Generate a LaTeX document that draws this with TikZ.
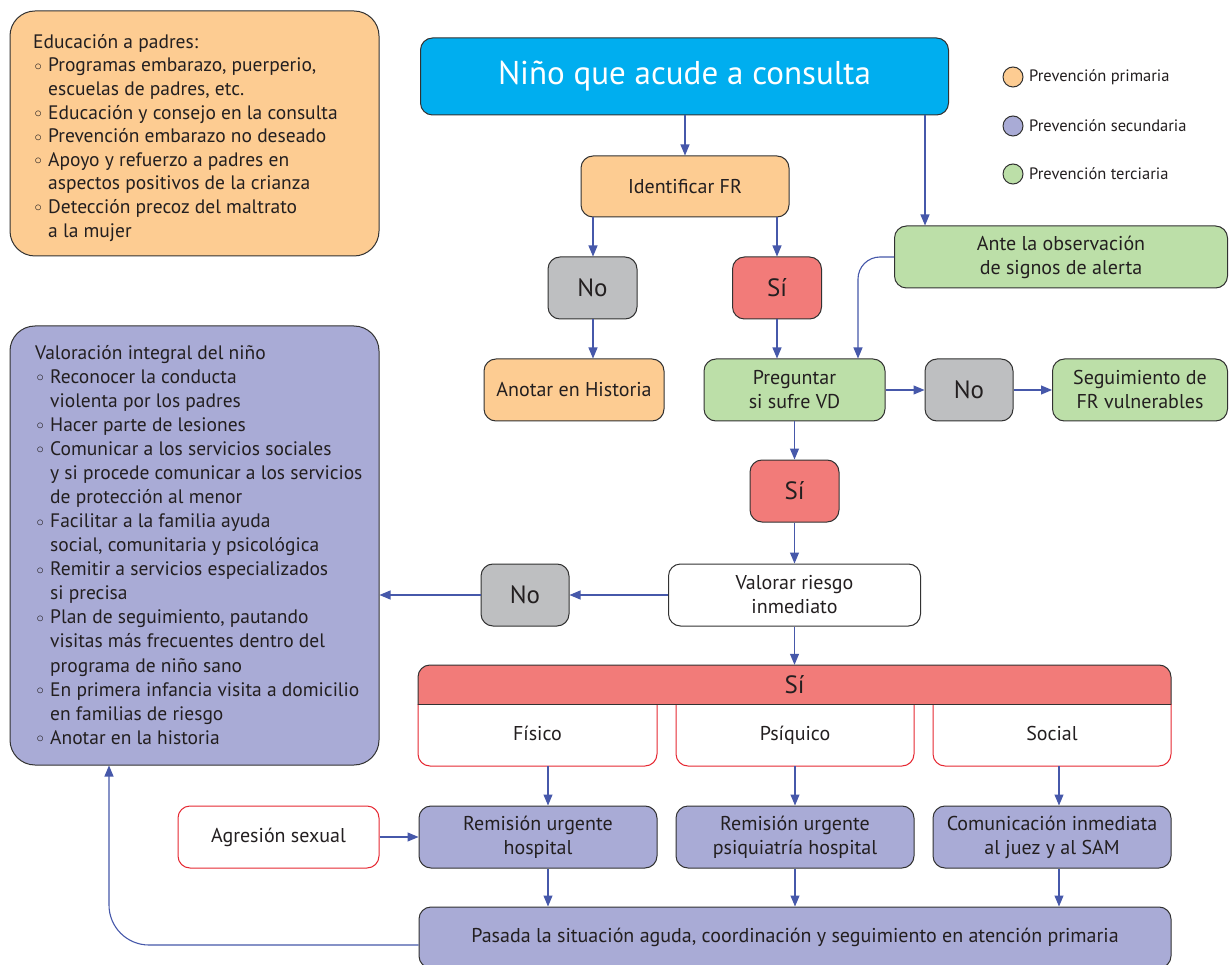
\documentclass[tikz,border=0pt]{standalone}
\usepackage{fontspec}
\usepackage{graphicx}
\setmainfont{PT Sans}
\usetikzlibrary{arrows.meta}
\definecolor{cOr}{RGB}{253,204,146}
\definecolor{cPu}{RGB}{169,171,214}
\definecolor{cGr}{RGB}{188,223,168}
\definecolor{cGy}{RGB}{190,191,193}
\definecolor{cRd}{RGB}{242,123,121}
\definecolor{cBl}{RGB}{0,174,239}
\definecolor{cAr}{RGB}{70,88,170}
\definecolor{cBd}{RGB}{50,50,50}
\definecolor{cTx}{RGB}{35,31,32}
\definecolor{cRl}{RGB}{230,40,50}
\newcommand\itm{\makebox[15pt][l]{\hspace{1.5pt}\raisebox{1.5pt}{\scalebox{0.7}{$\circ$}}}}
\newcommand\cnt{\hspace*{15pt}}
\begin{document}
\begin{tikzpicture}[x=1pt,y=-1pt,
  box/.style={draw=cBd, line width=1pt, rounded corners=12pt, align=center, inner sep=2pt,
    text=cTx, font=\fontsize{20}{24}\selectfont},
  big/.style={box, font=\fontsize{25}{28}\selectfont},
  plain/.style={inner sep=0pt, align=center, text=cTx, font=\fontsize{20}{24}\selectfont},
  arr/.style={draw=cAr, line width=1.1pt, -{Triangle[length=11pt,width=9pt]}},
  legc/.style={circle, draw=cBd, line width=1pt, minimum size=20pt, inner sep=0pt},
  legt/.style={anchor=west, inner sep=0pt, text=cTx, font=\fontsize{16.5}{18}\selectfont},
  list/.style={anchor=north west, inner sep=0pt, align=left, text=cTx, font=\fontsize{19.5}{23.6}\selectfont}
]
\useasboundingbox (0,0) rectangle (1229,965);
\fill[white] (0,0) rectangle (1229,965);

% left boxes
\node[draw=cBd, line width=1pt, fill=cOr, rounded corners=25pt, minimum width=369pt, minimum height=245pt, inner sep=0pt] (obox) at (194.5,133.5) {};
\node[list] (otext) at (33,34) {Educación a padres:\\
\itm Programas embarazo, puerperio,\\
\cnt escuelas de padres, etc.\\
\itm Educación y consejo en la consulta\\
\itm Prevención embarazo no deseado\\
\itm Apoyo y refuerzo a padres en\\
\cnt aspectos positivos de la crianza\\
\itm Detección precoz del maltrato\\
\cnt a la mujer};

\node[draw=cBd, line width=1pt, fill=cPu, rounded corners=25pt, minimum width=369pt, minimum height=439pt, inner sep=0pt] (lbox) at (194.5,545.5) {};
\node[list, font=\fontsize{19.5}{24.06}\selectfont] (ltext) at (35,345) {Valoración integral del niño\\
\itm Reconocer la conducta\\
\cnt violenta por los padres\\
\itm Hacer parte de lesiones\\
\itm Comunicar a los servicios sociales\\
\cnt y si procede comunicar a los servicios\\
\cnt de protección al menor\\
\itm Facilitar a la familia ayuda\\
\cnt social, comunitaria y psicológica\\
\itm Remitir a servicios especializados\\
\cnt si precisa\\
\itm Plan de seguimiento, pautando\\
\cnt visitas más frecuentes dentro del\\
\cnt programa de niño sano\\
\itm En primera infancia visita a domicilio\\
\cnt en familias de riesgo\\
\itm Anotar en la historia};

% legend
\node[legc, fill=cOr] (l1) at (1013,77) {};
\node[legt] (l1t) at (1029,77) {Prevención primaria};
\node[legc, fill=cPu] (l2) at (1013,126) {};
\node[legt] (l2t) at (1029,126) {Prevención secundaria};
\node[legc, fill=cGr] (l3) at (1013,174) {};
\node[legt] (l3t) at (1029,174) {Prevención terciaria};

% flow nodes
\node[box, fill=cBl, text=white, minimum width=528pt, minimum height=77pt, font=\fontsize{33}{36}\selectfont] (nino) at (684.5,76.5) {Niño que acude a consulta};
\node[box, fill=cOr, minimum width=208pt, minimum height=61pt] (ident) at (685,186.5) {Identificar FR};
\node[big, fill=cGy, minimum width=89pt, minimum height=62pt] (no1) at (592.5,288) {No};
\node[big, fill=cRd, minimum width=89pt, minimum height=62pt] (si1) at (777,288) {Sí};
\node[box, fill=cOr, minimum width=180pt, minimum height=62pt] (anot) at (574,390) {Anotar en Historia};
\node[box, fill=cGr, minimum width=333pt, minimum height=62pt] (ante) at (1061,257) {Ante la observación\\de signos de alerta};
\node[box, fill=cGr, minimum width=181pt, minimum height=62pt] (preg) at (794.5,390) {Preguntar\\si sufre VD};
\node[big, fill=cGy, minimum width=88pt, minimum height=62pt] (no2) at (969,390) {No};
\node[box, fill=cGr, minimum width=175pt, minimum height=62pt] (seg) at (1140,390) {Seguimiento de\\FR vulnerables};
\node[big, fill=cRd, minimum width=89pt, minimum height=62pt] (si2) at (794.5,491) {Sí};
\node[box, fill=white, minimum width=252pt, minimum height=62pt] (val) at (794.5,595) {Valorar riesgo\\inmediato};
\node[big, fill=cGy, minimum width=88pt, minimum height=62pt] (no3) at (525,595) {No};

% Si group
\begin{scope}
  \clip (405,640) rectangle (1185,704);
  \draw[draw=cBd, line width=1pt, fill=cRd, rounded corners=12pt] (418,665) rectangle (1171,740);
\end{scope}
\node[plain, minimum width=753pt, minimum height=39pt, font=\fontsize{25}{28}\selectfont] (head) at (794.5,684.5) {Sí};
\foreach \a/\b in {418/657, 676/914, 933/1171}{
  \begin{scope}
    \clip (\a-5,704) rectangle (\b+5,775);
    \draw[draw=cRl, line width=1pt, fill=white, rounded corners=12pt] (\a,680) rectangle (\b,766);
  \end{scope}
}
\draw[draw=cBd, line width=1pt] (418,704) -- (1171,704);
\node[plain, minimum width=239pt, minimum height=62pt, text height=14pt, text depth=4pt] (fis) at (537.5,735) {Físico};
\node[plain, minimum width=238pt, minimum height=62pt, text height=14pt, text depth=4pt] (psi) at (795,735) {Psíquico};
\node[plain, minimum width=238pt, minimum height=62pt, text height=14pt, text depth=4pt] (soc) at (1052,735) {Social};

% row 4
\node[box, draw=cRl, fill=white, minimum width=201pt, minimum height=62pt] (agr) at (278.5,837) {Agresión sexual};
\node[box, fill=cPu, minimum width=238pt, minimum height=62pt] (rem1) at (538,837) {Remisión urgente\\hospital};
\node[box, fill=cPu, minimum width=238pt, minimum height=62pt] (rem2) at (795,837) {Remisión urgente\\psiquiatría hospital};
\node[box, fill=cPu, minimum width=238pt, minimum height=62pt] (com) at (1052,837) {Comunicación inmediata\\al juez y al SAM};
\node[box, fill=cPu, minimum width=752pt, minimum height=61pt] (pas) at (795,937.5) {Pasada la situación aguda, coordinación y seguimiento en atención primaria};

% helper coordinates
\coordinate (x925) at (925,0);
\coordinate (x593) at (593,0);
\coordinate (x777) at (777,0);
\coordinate (x858) at (858,0);
\coordinate (x548) at (548,0);
\coordinate (x795) at (795,0);
\coordinate (x1059) at (1059,0);
\coordinate (x109) at (109,0);
\coordinate (y945) at (0,945);

% connectors
\draw[arr] (ident.north |- nino.south) -- (ident.north);
\draw[arr] (nino.south -| x925) -- (ante.north -| x925);
\draw[arr] (ident.south -| x593) -- (no1.north -| x593);
\draw[arr] (ident.south -| x777) -- (si1.north -| x777);
\draw[arr] (no1.south -| x593) -- (anot.north -| x593);
\draw[arr] (si1.south -| x777) -- (preg.north -| x777);
\draw[arr, rounded corners=22pt] (ante.west) -| (preg.north -| x858);
\draw[arr] (preg.east) -- (no2.west);
\draw[arr] (no2.east) -- (seg.west);
\draw[arr] (preg.south) -- (si2.north);
\draw[arr] (si2.south) -- (val.north);
\draw[arr] (val.west) -- (no3.east);
\draw[arr] (no3.west) -- (no3.west -| lbox.east);
\draw[arr] (val.south) -- (val.south |- head.north);
\draw[arr] (fis.south -| x548) -- (rem1.north -| x548);
\draw[arr] (psi.south -| x795) -- (rem2.north -| x795);
\draw[arr] (soc.south -| x1059) -- (com.north -| x1059);
\draw[arr] (rem1.south -| x548) -- (pas.north -| x548);
\draw[arr] (rem2.south -| x795) -- (pas.north -| x795);
\draw[arr] (com.south -| x1059) -- (pas.north -| x1059);
\draw[arr] (agr.east) -- (rem1.west);
\draw[arr, rounded corners=40pt] (pas.west |- y945) -| (lbox.south -| x109);
\end{tikzpicture}
\end{document}
